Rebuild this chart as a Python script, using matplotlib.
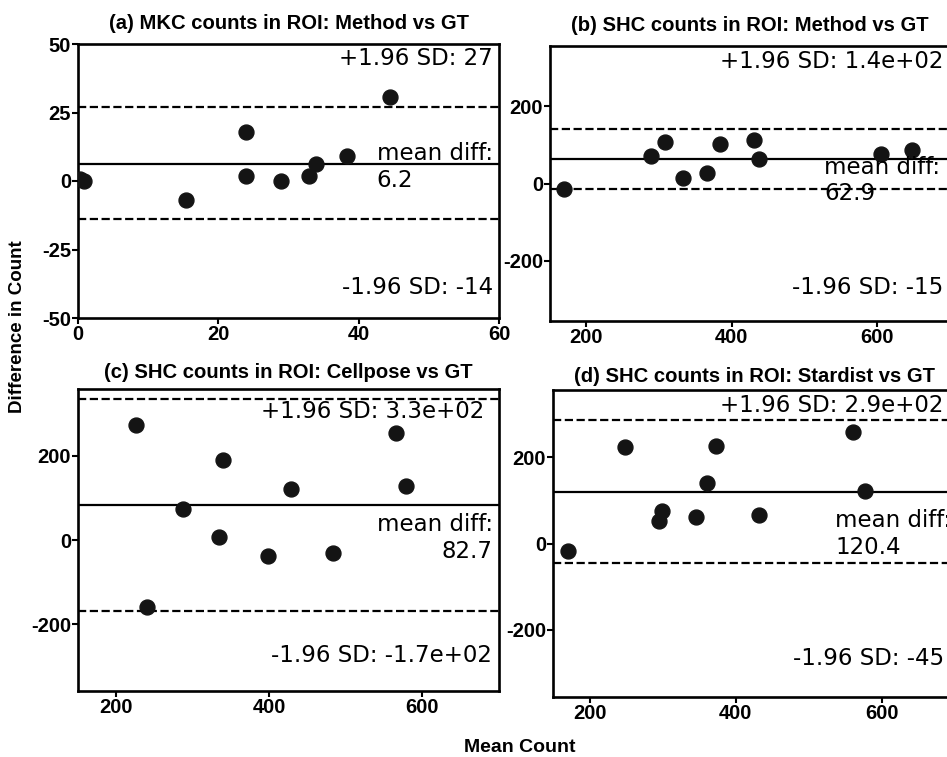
import matplotlib
matplotlib.use("Agg")
import matplotlib.pyplot as plt

# Datos (media vs diferencia)
titulos = ["(a) MKC counts in ROI: Method vs GT",
           "(b) SHC counts in ROI: Method vs GT",
           "(c) SHC counts in ROI: Cellpose vs GT",
           "(d) SHC counts in ROI: Stardist vs GT"]

media_a = [0.3, 0.8, 15.4, 23.9, 23.9, 28.9, 32.9, 33.9, 38.4, 44.4]
dif_a = [0.6, 0.0, -6.9, 17.9, 1.9, 0.0, 1.9, 6.1, 9.1, 30.8]

media_b = [169, 289, 308, 333, 366, 384, 431, 437, 605, 648]
dif_b = [-14, 71, 107, 13, 27, 102, 113, 64, 76, 87]

media_c = [226, 240, 287, 334, 340, 398, 428, 483, 565, 578]
dif_c = [272, -158, 74, 6, 189, -37, 120, -32, 254, 128]

media_d = [170, 248, 295, 299, 346, 361, 373, 432, 560, 577]
dif_d = [-18, 224, 52, 76, 62, 141, 226, 67, 258, 122]

medias = [media_a, media_b, media_c, media_d]
difs = [dif_a, dif_b, dif_c, dif_d]

# Línea media y límites de acuerdo (±1.96 SD)
media_dif = [6.2, 62.9, 82.7, 120.4]
limite_sup = [27, 141, 334, 286]
limite_inf = [-14, -15, -168, -45]
txt_sup = ["27", "1.4e+02", "3.3e+02", "2.9e+02"]
txt_inf = ["-14", "-15", "-1.7e+02", "-45"]

W, H = 947, 757
fig = plt.figure(figsize=(W / 100, H / 100), dpi=100)

# Posiciones de los ejes en píxeles: izquierda, arriba, derecha, abajo
cajas = [(78, 44, 499, 318), (550, 46, 950, 321),
         (78, 389, 499, 691), (553, 390, 955, 697)]
pads = [11, 11, 8, 5.5]
xlims = [(0, 60), (150, 700), (150, 700), (150, 700)]
ylims = [(-50, 50), (-357, 357), (-358, 358), (-356, 356)]
xticks = [[0, 20, 40, 60], [200, 400, 600], [200, 400, 600], [200, 400, 600]]
yticks = [[-50, -25, 0, 25, 50], [-200, 0, 200], [-200, 0, 200], [-200, 0, 200]]
# posición (fracción de ejes) de los textos
pos_sup = [(0.985, 0.948), (0.983, 0.943), (0.964, 0.925), (0.972, 0.951)]
pos_med = [(0.985, 0.551), (0.975, 0.511), (0.985, 0.506), (0.99, 0.53)]
pos_inf = [(0.985, 0.112), (0.983, 0.123), (0.983, 0.119), (0.972, 0.125)]
alin_med = ["left", "left", "right", "left"]

bold = dict(family="Liberation Sans", weight="bold")

for i in range(4):
    l, t, r, b = cajas[i]
    ax = fig.add_axes([l / W, 1 - b / H, (r - l) / W, (b - t) / H])
    ax.scatter(medias[i], difs[i], s=115, color="#141414", zorder=3)
    ax.axhline(media_dif[i], color="black", lw=1.6)
    ax.axhline(limite_sup[i], color="black", lw=1.6, ls="--")
    ax.axhline(limite_inf[i], color="black", lw=1.6, ls="--")
    ax.set_xlim(*xlims[i])
    ax.set_ylim(*ylims[i])
    ax.set_xticks(xticks[i])
    ax.set_yticks(yticks[i])
    ax.set_xticklabels([str(v) for v in xticks[i]], fontsize=14.5, **bold)
    ax.set_yticklabels([str(v) for v in yticks[i]], fontsize=14.5, **bold)
    ax.tick_params(direction="out", length=4, width=1.5, pad=1)
    for sp in ax.spines.values():
        sp.set_linewidth(1.9)
    ax.set_title(titulos[i], fontsize=14.6, pad=pads[i], **bold)

    ax.text(pos_sup[i][0], pos_sup[i][1], "+1.96 SD: " + txt_sup[i],
            transform=ax.transAxes, ha="right", va="center",
            fontsize=16.5, family="DejaVu Sans")
    ax.text(pos_med[i][0], pos_med[i][1], "mean diff:\n" + str(media_dif[i]),
            transform=ax.transAxes, ha="right", va="center",
            multialignment=alin_med[i], fontsize=16.5, family="DejaVu Sans")
    ax.text(pos_inf[i][0], pos_inf[i][1], "-1.96 SD: " + txt_inf[i],
            transform=ax.transAxes, ha="right", va="center",
            fontsize=16.5, family="DejaVu Sans")

fig.text(18 / W, 1 - 327 / H, "Difference in Count", rotation=90,
         ha="center", va="center", fontsize=13.5, **bold)
fig.text(520 / W, 1 - 748 / H, "Mean Count", ha="center", va="center",
         fontsize=14, **bold)

fig.savefig("out.png", dpi=100)
